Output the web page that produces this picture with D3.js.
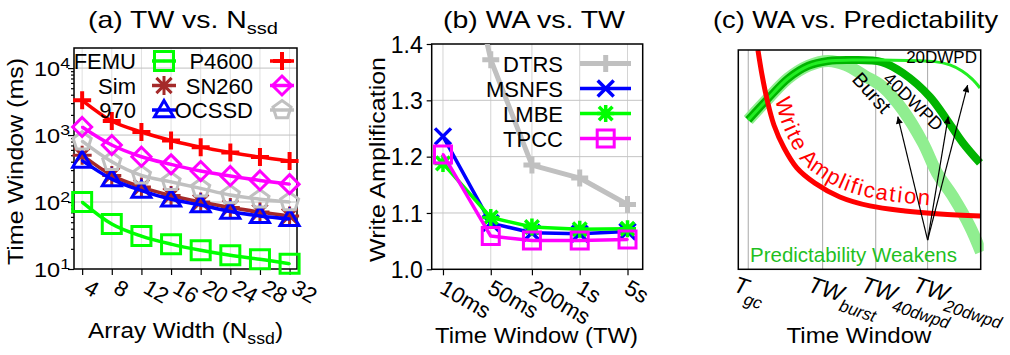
<!DOCTYPE html>
<html>
<head>
<meta charset="utf-8">
<script src="https://cdn.jsdelivr.net/npm/d3@7"></script>
<style>
  body { margin: 0; background: #fff; }
  svg { font-family: "Liberation Sans", Arial, sans-serif; }
</style>
</head>
<body>
<svg id="chart" width="1010" height="355"></svg>
<script>
// ---- (a) TW vs. N_ssd ----
var widths = [4, 8, 12, 16, 20, 24, 28, 32];
var femu   = [100, 47, 31, 23.5, 19, 16, 14, 12];
var p4600  = [3300, 1620, 1110, 830, 660, 550, 470, 410];
var sim    = [500, 250, 167, 125, 100, 83, 71, 62];
var sn260  = [1320, 710, 475, 365, 290, 245, 210, 185];
var ssd970 = [415, 220, 148, 110, 90, 72, 62, 56];
var ocssd  = [810, 400, 250, 200, 160, 127, 110, 100];
var decadeExps = [1, 2, 3, 4];

// ---- (b) WA vs. TW ----
var windowsMs    = [10, 50, 200, 1000, 5000];
var windowLabels = ["10ms", "50ms", "200ms", "1s", "5s"];
var dtrs  = [1.75, 1.372, 1.185, 1.162, 1.115];
var msnfs = [1.236, 1.082, 1.065, 1.063, 1.067];
var lmbe  = [1.188, 1.092, 1.075, 1.071, 1.072];
var tpcc  = [1.204, 1.059, 1.051, 1.051, 1.053];
var waTicks = [1.0, 1.1, 1.2, 1.3, 1.4];

// ---- (c) WA vs. Predictability (conceptual units 0-100) ----
var waCurve    = [[8.1,100],[9.8,88.6],[11.9,77.2],[14.7,65.8],[18.9,55.3],[24.2,46.2],[31.6,39.3],[41.9,33.0],[54.3,28.9],[68.8,26.6],[83.2,25.2],[100,24.3]];
var riseCurve  = [[4.1,68.1],[12.4,78.0],[20.6,87.1],[28.9,92.8],[37.1,95.0]];
var burstTail  = [[44.2,93.2],[52.3,88.1],[59.7,83.1],[67.9,72.6],[76.2,57.6],[82.0,43.9],[88.6,33.1],[95.6,19.4],[100.1,7.9]];
var dwpd40Tail = [[46.8,95.4],[59.2,94.5],[67.9,89.5],[79.1,78.6],[86.1,68.1],[92.7,57.6],[99.7,48.5]];
var dwpd20Tail = [[46.8,95.4],[59.2,95.4],[81.1,94.7],[87.3,93.2],[92.3,90.4],[96.4,86.8],[99.7,82.7]];
var twMarks    = [4.1, 34.8, 56.7, 78.1];
var twNames    = [["T", "gc"], ["TW", "burst"], ["TW", "40dwpd"], ["TW", "20dwpd"]];
var arrowFrom  = [78.1, 13.3];
var arrowTips  = [[65.8,69.6],[86.6,69.6],[94.6,84.0]];

var svg = d3.select("#chart");
var defs = svg.append("defs");

// marker shapes
function drawSymbol(g, type, x, y, s, color, sw) {
  var h = s / 2;
  var p;
  if (type === "square") {
    p = "M" + (x-h) + "," + (y-h) + "h" + s + "v" + s + "h" + (-s) + "z";
  } else if (type === "plus") {
    p = "M" + (x-h) + "," + y + "h" + s + "M" + x + "," + (y-h) + "v" + s;
  } else if (type === "cross") {
    p = "M" + (x-h) + "," + (y-h) + "l" + s + "," + s + "M" + (x-h) + "," + (y+h) + "l" + s + "," + (-s);
  } else if (type === "star") {
    var k = h * 0.8;
    p = "M" + (x-k) + "," + (y-k) + "L" + (x+k) + "," + (y+k) + "M" + (x-k) + "," + (y+k) + "L" + (x+k) + "," + (y-k) +
        "M" + x + "," + (y-h) + "v" + s + "M" + (x-h) + "," + y + "h" + s;
  } else if (type === "diamond") {
    p = "M" + x + "," + (y-h) + "L" + (x+h) + "," + y + "L" + x + "," + (y+h) + "L" + (x-h) + "," + y + "z";
  } else if (type === "triangle") {
    p = "M" + x + "," + (y-h) + "L" + (x+h) + "," + (y+h*0.7) + "L" + (x-h) + "," + (y+h*0.7) + "z";
  } else if (type === "pentagon") {
    var pts = d3.range(5).map(function(i) {
      var a = -Math.PI / 2 + i * 2 * Math.PI / 5;
      return [x + h * Math.cos(a), y + h * Math.sin(a)];
    });
    p = "M" + pts.join("L") + "z";
  }
  g.append("path").attr("d", p)
    .attr("fill", "none").attr("stroke", color).attr("stroke-width", sw)
    .attr("stroke-linejoin", "miter");
  if (["square", "diamond", "triangle", "pentagon"].indexOf(type) >= 0) {
    g.append("circle").attr("cx", x).attr("cy", y).attr("r", 1.3).attr("fill", color);
  }
}

function styleAxis(g) {
  g.select(".domain").remove();
  g.selectAll("line").attr("stroke", "#000").attr("stroke-width", 1.2);
  g.selectAll("text").attr("font-size", 22).attr("fill", "#000")
    .style("font-family", "Liberation Sans, Arial, sans-serif");
}

// stretched label (titles and axis labels are wide in the original)
function label(g, x, y, rot, size, len, parts) {
  var t = g.append("text")
    .attr("transform", "translate(" + x + "," + y + ") rotate(" + rot + ")")
    .attr("text-anchor", "middle").attr("font-size", size)
    .attr("textLength", len).attr("lengthAdjust", "spacingAndGlyphs");
  parts.forEach(function(p) {
    var s = t.append("tspan").text(p[0]);
    if (p[1]) s.attr("dy", p[1]);
    if (p[2]) s.attr("font-size", p[2]);
  });
  return t;
}

// ======================= (a) =======================
var xA = d3.scaleLinear().domain([2.9, 33]).range([74, 297]);
var yA = d3.scaleLog().domain([10, Math.pow(10, 4.3)]).range([269, 48]);

var gA = svg.append("g");

// grid
gA.selectAll(".vgrid").data(widths).enter().append("line")
  .attr("x1", d => xA(d)).attr("x2", d => xA(d))
  .attr("y1", yA.range()[0]).attr("y2", yA.range()[1])
  .attr("stroke", "#e0e0e0").attr("stroke-width", 1);
gA.selectAll(".hgrid").data(decadeExps.slice(1)).enter().append("line")
  .attr("x1", xA.range()[0]).attr("x2", xA.range()[1])
  .attr("y1", d => yA(Math.pow(10, d))).attr("y2", d => yA(Math.pow(10, d)))
  .attr("stroke", "#c0c0c0").attr("stroke-width", 1);

// axes
var minorA = [];
decadeExps.forEach(function(e) {
  for (var m = 2; m <= 9; m++) {
    var v = m * Math.pow(10, e);
    if (v < yA.domain()[1]) minorA.push(v);
  }
});
gA.append("g").attr("transform", "translate(74,0)")
  .call(d3.axisLeft(yA).tickValues(minorA).tickSize(3).tickFormat(""))
  .call(styleAxis);
var yAxisA = gA.append("g").attr("transform", "translate(74,0)")
  .call(d3.axisLeft(yA).tickValues(decadeExps.map(e => Math.pow(10, e))).tickSize(6).tickFormat(""))
  .call(styleAxis);
yAxisA.selectAll(".tick").append("text")
  .attr("x", -4).attr("y", 7).attr("text-anchor", "end")
  .attr("font-size", 20).attr("fill", "#000")
  .attr("textLength", 36).attr("lengthAdjust", "spacingAndGlyphs")
  .each(function(d) {
    var t = d3.select(this);
    t.append("tspan").text("10");
    t.append("tspan").attr("dy", -8).attr("font-size", 15).text(Math.round(Math.log10(d)));
  });

var xAxisA = gA.append("g").attr("transform", "translate(0,269)")
  .call(d3.axisBottom(xA).tickValues(widths).tickSize(6).tickFormat(d => d))
  .call(styleAxis);
xAxisA.selectAll("text")
  .attr("x", 0).attr("y", 0).attr("dy", 0)
  .attr("text-anchor", "start")
  .attr("transform", "translate(0,23) rotate(30)");

// frame
gA.append("rect").attr("x", 74).attr("y", 48).attr("width", 297 - 74).attr("height", 269 - 48)
  .attr("fill", "none").attr("stroke", "#000").attr("stroke-width", 1.5);

var seriesA = [
  { name: "FEMU",  values: femu,   color: "#00ff00", sym: "square" },
  { name: "P4600", values: p4600,  color: "#ff0000", sym: "plus" },
  { name: "Sim",   values: sim,    color: "#a52a2a", sym: "star" },
  { name: "SN260", values: sn260,  color: "#ff00ff", sym: "diamond" },
  { name: "970",   values: ssd970, color: "#0000ff", sym: "triangle" },
  { name: "OCSSD", values: ocssd,  color: "#c0c0c0", sym: "pentagon" }
];
var drawOrderA = [2, 4, 5, 3, 0, 1];
var lineA = d3.line().x(d => xA(d[0])).y(d => yA(d[1])).curve(d3.curveMonotoneX);

drawOrderA.forEach(function(i) {
  var s = seriesA[i];
  var pts = widths.map((w, j) => [w, s.values[j]]);
  var g = gA.append("g");
  g.append("path").attr("d", lineA(pts))
    .attr("fill", "none").attr("stroke", s.color).attr("stroke-width", 3.5);
  pts.forEach(function(p) {
    drawSymbol(g, s.sym, xA(p[0]), yA(p[1]), s.sym === "plus" ? 18 : 19, s.color, s.sym === "plus" ? 4 : 3);
  });
});

// legend (a)
var legA = gA.append("g");
seriesA.forEach(function(s, i) {
  var col = i % 2, row = Math.floor(i / 2);
  var cy = 61 + row * 24.5;
  var tx = col === 0 ? 136 : 253;
  var mx = col === 0 ? 164 : 282;
  legA.append("text").attr("x", tx).attr("y", cy + 8).attr("text-anchor", "end")
    .attr("font-size", 22).text(s.name);
  legA.append("line").attr("x1", mx - 12).attr("x2", mx + 12).attr("y1", cy).attr("y2", cy)
    .attr("stroke", s.color).attr("stroke-width", 3.5);
  drawSymbol(legA, s.sym, mx, cy, s.sym === "plus" ? 18 : 19, s.color, s.sym === "plus" ? 4 : 3);
});

// labels (a)
label(gA, 183, 27.5, 0, 24, 190, [["(a) TW vs. N"], ["ssd", 6, 17]]);
label(gA, 185.5, 338, 0, 22, 195, [["Array Width (N"], ["ssd", 6, 16], [")", -6]]);
label(gA, 23, 161.5, -90, 22, 207, [["Time Window (ms)"]]);

// ======================= (b) =======================
var xB = d3.scaleLog().domain([6.84, 8340]).range([431.7, 642.7]);
var yB = d3.scaleLinear().domain([1.0, 1.4]).range([269.3, 44]);
var gB = svg.append("g");

gB.selectAll(".vgrid").data(windowsMs).enter().append("line")
  .attr("x1", d => xB(d)).attr("x2", d => xB(d))
  .attr("y1", yB.range()[0]).attr("y2", yB.range()[1])
  .attr("stroke", "#d4d4d4").attr("stroke-width", 1);
gB.selectAll(".hgrid").data(waTicks.slice(1, 4)).enter().append("line")
  .attr("x1", xB.range()[0]).attr("x2", xB.range()[1])
  .attr("y1", d => yB(d)).attr("y2", d => yB(d))
  .attr("stroke", "#c4c4c4").attr("stroke-width", 1);

gB.append("g").attr("transform", "translate(431.7,0)")
  .call(d3.axisLeft(yB).tickValues(waTicks).tickSize(5).tickPadding(4).tickFormat(d3.format(".1f")))
  .call(styleAxis)
  .selectAll("text").attr("dy", "0.36em").attr("font-size", 23);

var xAxisB = gB.append("g").attr("transform", "translate(0,269.3)")
  .call(d3.axisBottom(xB).tickValues(windowsMs).tickSize(6).tickFormat((d, i) => windowLabels[i]))
  .call(styleAxis);
xAxisB.selectAll("text")
  .attr("x", 0).attr("y", 0).attr("dy", 0)
  .attr("text-anchor", "start")
  .attr("transform", "translate(-5,23) rotate(30)");

gB.append("rect").attr("x", 431.7).attr("y", 44).attr("width", 642.7 - 431.7).attr("height", 269.3 - 44)
  .attr("fill", "none").attr("stroke", "#000").attr("stroke-width", 1.5);

defs.append("clipPath").attr("id", "clipB").append("rect")
  .attr("x", 431.7).attr("y", 44).attr("width", 642.7 - 431.7).attr("height", 269.3 - 44);

var seriesB = [
  { name: "DTRS",  values: dtrs,  color: "#c0c0c0", sym: "plus",   lw: 5,   size: 17, sw: 5 },
  { name: "MSNFS", values: msnfs, color: "#0000ff", sym: "cross",  lw: 3.5, size: 16, sw: 3.5 },
  { name: "LMBE",  values: lmbe,  color: "#00ff00", sym: "star",   lw: 3.5, size: 17, sw: 3.5 },
  { name: "TPCC",  values: tpcc,  color: "#ff00ff", sym: "square", lw: 3.5, size: 17, sw: 3 }
];
var lineB = d3.line().x(d => xB(d[0])).y(d => yB(d[1]));

seriesB.forEach(function(s) {
  var pts = windowsMs.map((w, j) => [w, s.values[j]]);
  var g = gB.append("g").attr("clip-path", s.name === "DTRS" ? "url(#clipB)" : null);
  g.append("path").attr("d", lineB(pts))
    .attr("fill", "none").attr("stroke", s.color).attr("stroke-width", s.lw)
    .attr("stroke-linejoin", "round");
  pts.forEach(function(p) {
    drawSymbol(g, s.sym, xB(p[0]), yB(p[1]), s.size, s.color, s.sw);
  });
});

var legB = gB.append("g");
seriesB.forEach(function(s, i) {
  var cy = 63.5 + i * 25;
  legB.append("text").attr("x", 563).attr("y", cy + 8).attr("text-anchor", "end")
    .attr("font-size", 22).text(s.name);
  legB.append("line").attr("x1", 580).attr("x2", 631).attr("y1", cy).attr("y2", cy)
    .attr("stroke", s.color).attr("stroke-width", s.lw);
  drawSymbol(legB, s.sym, 605.7, cy, s.size, s.color, s.sw);
});

label(gB, 534, 27.5, 0, 24, 182, [["(b) WA vs. TW"]]);
label(gB, 536.5, 343, 0, 22, 203, [["Time Window (TW)"]]);
label(gB, 385, 159.5, -90, 22, 205, [["Write Amplification"]]);

// ======================= (c) =======================
var xC = d3.scaleLinear().domain([0, 100]).range([738.3, 980.7]);
var yC = d3.scaleLinear().domain([0, 100]).range([269.3, 50]);
var gC = svg.append("g");

defs.append("clipPath").attr("id", "clipC").append("rect")
  .attr("x", 738.3).attr("y", 50).attr("width", 980.7 - 738.3 + 3).attr("height", 269.3 - 50);
defs.append("marker").attr("id", "arrowHead")
  .attr("viewBox", "0 0 10 10").attr("refX", 10).attr("refY", 5)
  .attr("markerWidth", 9).attr("markerHeight", 7).attr("markerUnits", "userSpaceOnUse")
  .attr("orient", "auto")
  .append("path").attr("d", "M0,0L10,5L0,10z").attr("fill", "#000");

gC.selectAll(".vgrid").data(twMarks).enter().append("line")
  .attr("x1", d => xC(d)).attr("x2", d => xC(d))
  .attr("y1", yC(0)).attr("y2", yC(100))
  .attr("stroke", "#a8a8a8").attr("stroke-width", 1);

var lineC = d3.line().x(d => xC(d[0])).y(d => yC(d[1])).curve(d3.curveCatmullRom.alpha(0.5));
var curvesC = gC.append("g").attr("clip-path", "url(#clipC)");

curvesC.append("path").attr("d", lineC(riseCurve.concat(burstTail)))
  .attr("fill", "none").attr("stroke", "#90ee90").attr("stroke-width", 12);
curvesC.append("path").attr("d", lineC(riseCurve.concat(dwpd40Tail)))
  .attr("fill", "none").attr("stroke", "#00b400").attr("stroke-width", 8);
curvesC.append("path").attr("d", lineC(riseCurve.concat(dwpd20Tail)))
  .attr("fill", "none").attr("stroke", "#22ee22").attr("stroke-width", 3);

defs.append("path").attr("id", "waPath").attr("d", lineC(waCurve));
curvesC.append("path").attr("d", lineC(waCurve))
  .attr("fill", "none").attr("stroke", "#ff0000").attr("stroke-width", 5);

gC.append("text").attr("font-size", 22).attr("fill", "#ff0000").attr("letter-spacing", 2)
  .append("textPath").attr("href", "#waPath").attr("startOffset", 52)
  .append("tspan").attr("dy", -8).text("Write Amplification");

arrowTips.forEach(function(t) {
  gC.append("line")
    .attr("x1", xC(arrowFrom[0])).attr("y1", yC(arrowFrom[1]))
    .attr("x2", xC(t[0])).attr("y2", yC(t[1]))
    .attr("stroke", "#000").attr("stroke-width", 1.2)
    .attr("marker-end", "url(#arrowHead)");
});

gC.append("text").attr("x", 977).attr("y", 63).attr("text-anchor", "end").attr("font-size", 17)
  .text("20DWPD");
gC.append("text").attr("transform", "translate(882,80) rotate(44)").attr("font-size", 18)
  .text("40DWPD");
gC.append("text").attr("transform", "translate(851,80) rotate(48)").attr("font-size", 20)
  .text("Burst");
gC.append("text").attr("x", 750).attr("y", 261.5).attr("font-size", 20.5).attr("fill", "#1fbf1f")
  .text("Predictability Weakens");

gC.append("rect").attr("x", 738.3).attr("y", 50).attr("width", 980.7 - 738.3).attr("height", 269.3 - 50)
  .attr("fill", "none").attr("stroke", "#000").attr("stroke-width", 1.5);

twMarks.forEach(function(m, i) {
  gC.append("text")
    .attr("transform", "translate(" + (xC(m) - 16) + ",291) rotate(18)")
    .attr("font-size", 23).attr("font-style", "italic")
    .call(t => {
      t.append("tspan").text(twNames[i][0]);
      t.append("tspan").attr("dy", 9).attr("font-size", 17).text(twNames[i][1]);
    });
});

label(gC, 859, 343, 0, 22, 145, [["Time Window"]]);
label(gC, 855.5, 27.5, 0, 24, 285, [["(c) WA vs. Predictability"]]);
</script>
</body>
</html>
